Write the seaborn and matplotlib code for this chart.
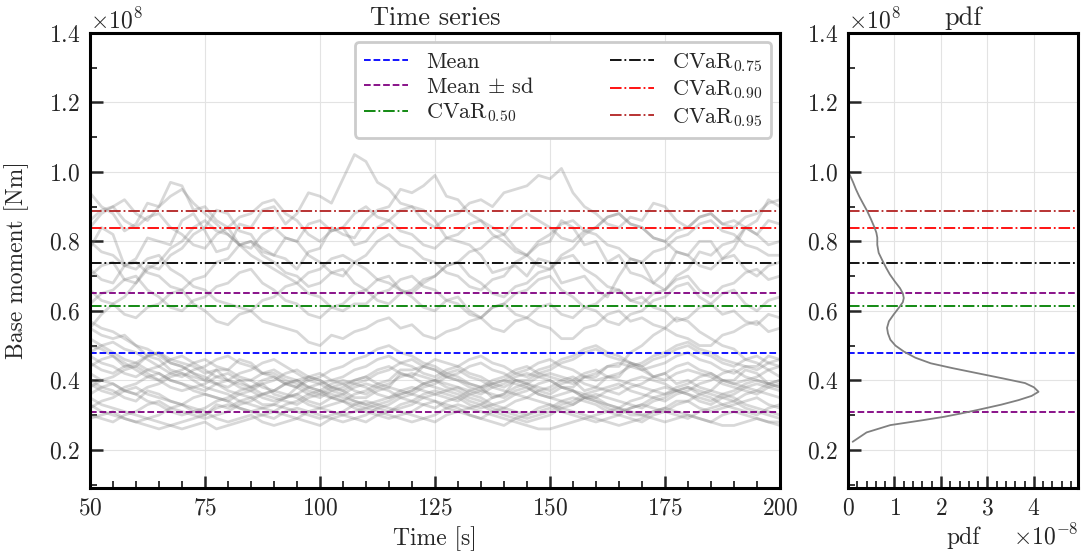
import numpy as np
import pandas as pd
import seaborn as sns
import matplotlib.pyplot as plt
from matplotlib.ticker import MultipleLocator, FixedLocator

#%%
# time grid [s], one sample every 2.5 s
time = [50 + 2.5 * k for k in range(61)]

# trajectories of base moment [x1e8 Nm], upper group
upper_runs = [
    [0.78, 0.84, 0.82, 0.73, 0.75, 0.81, 0.80, 0.79, 0.86, 0.88,
     0.83, 0.77, 0.78, 0.85, 0.84, 0.89, 0.90, 0.85, 0.88, 0.94,
     0.93, 0.91, 0.98, 1.05, 1.03, 0.97, 0.95, 0.91, 0.90, 0.89,
     0.86, 0.81, 0.80, 0.79, 0.76, 0.71, 0.72, 0.73, 0.70, 0.75,
     0.74, 0.68, 0.69, 0.70, 0.66, 0.64, 0.70, 0.75, 0.74, 0.68,
     0.71, 0.77, 0.76, 0.80, 0.80, 0.75, 0.78, 0.84, 0.82, 0.86,
     0.85],
    [0.94, 0.90, 0.88, 0.83, 0.85, 0.91, 0.90, 0.97, 0.96, 0.89,
     0.90, 0.86, 0.84, 0.79, 0.80, 0.78, 0.76, 0.75, 0.72, 0.77,
     0.78, 0.84, 0.82, 0.81, 0.86, 0.89, 0.90, 0.95, 0.94, 0.96,
     0.99, 0.93, 0.92, 0.88, 0.86, 0.84, 0.82, 0.78, 0.76, 0.79,
     0.80, 0.86, 0.84, 0.79, 0.80, 0.74, 0.76, 0.71, 0.70, 0.68,
     0.66, 0.70, 0.72, 0.77, 0.76, 0.79, 0.80, 0.84, 0.86, 0.92,
     0.90],
    [0.70, 0.73, 0.74, 0.69, 0.68, 0.73, 0.72, 0.76, 0.78, 0.82,
     0.84, 0.89, 0.88, 0.83, 0.82, 0.77, 0.76, 0.81, 0.80, 0.85,
     0.86, 0.83, 0.84, 0.79, 0.80, 0.84, 0.86, 0.89, 0.90, 0.86,
     0.84, 0.87, 0.88, 0.91, 0.92, 0.90, 0.94, 0.95, 0.96, 0.99,
     0.98, 1.01, 0.94, 0.90, 0.88, 0.85, 0.84, 0.87, 0.86, 0.91,
     0.90, 0.86, 0.84, 0.87, 0.88, 0.85, 0.86, 0.84, 0.82, 0.79,
     0.80],
    [0.72, 0.69, 0.68, 0.73, 0.74, 0.71, 0.70, 0.67, 0.66, 0.69,
     0.70, 0.74, 0.75, 0.79, 0.80, 0.76, 0.74, 0.71, 0.70, 0.67,
     0.68, 0.71, 0.72, 0.68, 0.66, 0.63, 0.62, 0.65, 0.66, 0.69,
     0.70, 0.73, 0.74, 0.70, 0.68, 0.65, 0.64, 0.67, 0.68, 0.71,
     0.72, 0.75, 0.76, 0.72, 0.70, 0.67, 0.66, 0.63, 0.62, 0.65,
     0.66, 0.69, 0.70, 0.66, 0.64, 0.67, 0.68, 0.71, 0.72, 0.69,
     0.70],
    [0.62, 0.65, 0.66, 0.69, 0.70, 0.66, 0.64, 0.61, 0.60, 0.63,
     0.64, 0.67, 0.68, 0.71, 0.72, 0.68, 0.66, 0.63, 0.62, 0.59,
     0.58, 0.61, 0.62, 0.65, 0.66, 0.69, 0.70, 0.66, 0.64, 0.61,
     0.60, 0.63, 0.64, 0.60, 0.58, 0.61, 0.62, 0.65, 0.66, 0.69,
     0.70, 0.66, 0.64, 0.61, 0.60, 0.57, 0.56, 0.59, 0.60, 0.63,
     0.64, 0.67, 0.68, 0.64, 0.62, 0.65, 0.66, 0.62, 0.60, 0.63,
     0.64],
    [0.80, 0.77, 0.76, 0.73, 0.72, 0.75, 0.76, 0.72, 0.70, 0.67,
     0.66, 0.63, 0.62, 0.61, 0.60, 0.57, 0.56, 0.55, 0.54, 0.51,
     0.50, 0.53, 0.52, 0.54, 0.55, 0.57, 0.58, 0.55, 0.56, 0.53,
     0.52, 0.54, 0.55, 0.57, 0.58, 0.61, 0.62, 0.59, 0.58, 0.56,
     0.55, 0.52, 0.52, 0.55, 0.56, 0.59, 0.60, 0.57, 0.58, 0.56,
     0.55, 0.53, 0.52, 0.50, 0.50, 0.53, 0.54, 0.56, 0.57, 0.54,
     0.55],
    [0.55, 0.59, 0.62, 0.64, 0.68, 0.72, 0.74, 0.78, 0.80, 0.84,
     0.86, 0.83, 0.82, 0.79, 0.78, 0.82, 0.84, 0.81, 0.80, 0.76,
     0.74, 0.71, 0.70, 0.74, 0.76, 0.80, 0.82, 0.79, 0.78, 0.75,
     0.74, 0.71, 0.70, 0.67, 0.66, 0.69, 0.70, 0.74, 0.76, 0.80,
     0.82, 0.85, 0.86, 0.83, 0.82, 0.79, 0.78, 0.75, 0.74, 0.77,
     0.78, 0.81, 0.82, 0.85, 0.86, 0.83, 0.82, 0.79, 0.78, 0.76,
     0.76],
    [0.86, 0.89, 0.90, 0.86, 0.84, 0.87, 0.88, 0.84, 0.82, 0.79,
     0.78, 0.82, 0.84, 0.87, 0.88, 0.91, 0.92, 0.88, 0.86, 0.82,
     0.80, 0.83, 0.84, 0.88, 0.90, 0.87, 0.86, 0.83, 0.82, 0.79,
     0.78, 0.81, 0.82, 0.85, 0.86, 0.82, 0.80, 0.77, 0.76, 0.73,
     0.72, 0.76, 0.78, 0.82, 0.84, 0.87, 0.88, 0.85, 0.84, 0.81,
     0.80, 0.77, 0.76, 0.73, 0.72, 0.75, 0.76, 0.72, 0.70, 0.73,
     0.74],
    [0.66, 0.63, 0.62, 0.59, 0.58, 0.61, 0.62, 0.65, 0.66, 0.62,
     0.60, 0.57, 0.56, 0.59, 0.60, 0.63, 0.64, 0.67, 0.68, 0.65,
     0.64, 0.61, 0.60, 0.62, 0.62, 0.65, 0.66, 0.69, 0.70, 0.67,
     0.66, 0.63, 0.62, 0.59, 0.58, 0.55, 0.54, 0.57, 0.58, 0.61,
     0.62, 0.59, 0.58, 0.61, 0.62, 0.65, 0.66, 0.63, 0.64, 0.61,
     0.60, 0.57, 0.58, 0.61, 0.62, 0.59, 0.60, 0.57, 0.56, 0.59,
     0.58],
    [0.84, 0.88, 0.90, 0.92, 0.88, 0.86, 0.90, 0.93, 0.95, 0.91,
     0.88, 0.85, 0.82, 0.79, 0.76, 0.74, 0.72, 0.70, 0.68, 0.71,
     0.72, 0.75, 0.76, 0.74, 0.72, 0.69, 0.68, 0.66, 0.65, 0.68,
     0.70, 0.73, 0.74, 0.77, 0.78, 0.81, 0.82, 0.86, 0.88, 0.86,
     0.84, 0.81, 0.80, 0.83, 0.84, 0.87, 0.88, 0.85, 0.84, 0.81,
     0.80, 0.83, 0.84, 0.87, 0.88, 0.85, 0.84, 0.87, 0.88, 0.91,
     0.92],
]

# lower group
lower_runs = [
    [0.55, 0.53, 0.52, 0.53, 0.50, 0.47, 0.48, 0.46, 0.45, 0.44,
     0.42, 0.43, 0.40, 0.39, 0.38, 0.39, 0.36, 0.35, 0.38, 0.41,
     0.40, 0.38, 0.37, 0.35, 0.35, 0.37, 0.38, 0.42, 0.41, 0.44,
     0.43, 0.41, 0.40, 0.39, 0.38, 0.35, 0.36, 0.40, 0.39, 0.41,
     0.42, 0.41, 0.40, 0.37, 0.38, 0.41, 0.41, 0.45, 0.44, 0.41,
     0.42, 0.39, 0.40, 0.38, 0.37, 0.40, 0.40, 0.43, 0.42, 0.39,
     0.40],
    [0.50, 0.49, 0.47, 0.44, 0.44, 0.47, 0.46, 0.43, 0.42, 0.41,
     0.40, 0.43, 0.43, 0.46, 0.45, 0.42, 0.42, 0.40, 0.39, 0.37,
     0.36, 0.35, 0.34, 0.36, 0.37, 0.39, 0.40, 0.43, 0.43, 0.44,
     0.46, 0.45, 0.44, 0.42, 0.41, 0.39, 0.38, 0.40, 0.40, 0.42,
     0.43, 0.45, 0.46, 0.48, 0.49, 0.47, 0.46, 0.45, 0.43, 0.44,
     0.45, 0.47, 0.48, 0.46, 0.45, 0.43, 0.42, 0.44, 0.44, 0.47,
     0.46],
    [0.40, 0.38, 0.37, 0.35, 0.34, 0.37, 0.36, 0.34, 0.33, 0.31,
     0.30, 0.33, 0.32, 0.34, 0.35, 0.33, 0.33, 0.32, 0.31, 0.30,
     0.29, 0.30, 0.31, 0.33, 0.34, 0.33, 0.32, 0.31, 0.30, 0.29,
     0.28, 0.30, 0.31, 0.32, 0.33, 0.31, 0.30, 0.29, 0.28, 0.29,
     0.30, 0.32, 0.33, 0.35, 0.35, 0.33, 0.32, 0.30, 0.30, 0.31,
     0.32, 0.34, 0.34, 0.32, 0.31, 0.32, 0.33, 0.34, 0.35, 0.33,
     0.32],
    [0.35, 0.33, 0.32, 0.31, 0.30, 0.29, 0.28, 0.27, 0.26, 0.27,
     0.28, 0.26, 0.27, 0.28, 0.29, 0.30, 0.31, 0.30, 0.29, 0.28,
     0.27, 0.29, 0.30, 0.31, 0.32, 0.31, 0.30, 0.29, 0.28, 0.29,
     0.30, 0.32, 0.33, 0.32, 0.31, 0.30, 0.29, 0.28, 0.27, 0.26,
     0.26, 0.27, 0.28, 0.29, 0.30, 0.31, 0.32, 0.31, 0.30, 0.29,
     0.28, 0.29, 0.30, 0.29, 0.28, 0.27, 0.27, 0.28, 0.29, 0.28,
     0.28],
    [0.45, 0.43, 0.42, 0.44, 0.45, 0.47, 0.48, 0.45, 0.44, 0.42,
     0.41, 0.39, 0.38, 0.40, 0.40, 0.42, 0.43, 0.41, 0.40, 0.38,
     0.37, 0.36, 0.35, 0.34, 0.33, 0.34, 0.35, 0.37, 0.38, 0.37,
     0.36, 0.35, 0.34, 0.36, 0.37, 0.39, 0.40, 0.39, 0.38, 0.36,
     0.35, 0.34, 0.33, 0.35, 0.36, 0.35, 0.34, 0.33, 0.32, 0.34,
     0.35, 0.37, 0.38, 0.37, 0.36, 0.35, 0.34, 0.36, 0.37, 0.36,
     0.35],
    [0.38, 0.40, 0.41, 0.43, 0.44, 0.42, 0.40, 0.38, 0.37, 0.38,
     0.39, 0.41, 0.42, 0.40, 0.38, 0.36, 0.35, 0.34, 0.33, 0.35,
     0.36, 0.38, 0.39, 0.40, 0.41, 0.39, 0.38, 0.37, 0.36, 0.38,
     0.39, 0.41, 0.42, 0.44, 0.45, 0.43, 0.42, 0.40, 0.39, 0.38,
     0.37, 0.39, 0.40, 0.42, 0.43, 0.41, 0.40, 0.39, 0.38, 0.37,
     0.36, 0.38, 0.39, 0.41, 0.42, 0.40, 0.39, 0.38, 0.37, 0.39,
     0.40],
    [0.32, 0.34, 0.35, 0.37, 0.38, 0.36, 0.35, 0.34, 0.33, 0.35,
     0.36, 0.35, 0.34, 0.32, 0.31, 0.32, 0.33, 0.35, 0.36, 0.38,
     0.39, 0.37, 0.36, 0.34, 0.33, 0.32, 0.31, 0.33, 0.34, 0.36,
     0.37, 0.36, 0.35, 0.33, 0.32, 0.33, 0.34, 0.36, 0.37, 0.39,
     0.40, 0.38, 0.37, 0.35, 0.34, 0.32, 0.31, 0.32, 0.33, 0.35,
     0.36, 0.37, 0.38, 0.36, 0.35, 0.33, 0.32, 0.31, 0.30, 0.32,
     0.33],
    [0.48, 0.50, 0.51, 0.49, 0.48, 0.46, 0.44, 0.42, 0.41, 0.43,
     0.44, 0.46, 0.47, 0.45, 0.44, 0.42, 0.41, 0.39, 0.38, 0.40,
     0.41, 0.43, 0.44, 0.46, 0.47, 0.49, 0.50, 0.48, 0.47, 0.45,
     0.44, 0.42, 0.41, 0.39, 0.38, 0.39, 0.40, 0.42, 0.43, 0.45,
     0.46, 0.44, 0.43, 0.41, 0.40, 0.41, 0.42, 0.44, 0.45, 0.47,
     0.48, 0.50, 0.51, 0.49, 0.48, 0.46, 0.45, 0.44, 0.43, 0.45,
     0.46],
    [0.30, 0.29, 0.28, 0.30, 0.31, 0.33, 0.34, 0.32, 0.31, 0.30,
     0.29, 0.30, 0.31, 0.33, 0.34, 0.36, 0.37, 0.36, 0.35, 0.33,
     0.32, 0.31, 0.30, 0.29, 0.28, 0.30, 0.31, 0.32, 0.33, 0.35,
     0.36, 0.37, 0.38, 0.36, 0.35, 0.33, 0.32, 0.31, 0.30, 0.31,
     0.32, 0.34, 0.35, 0.34, 0.33, 0.31, 0.30, 0.29, 0.28, 0.30,
     0.31, 0.33, 0.34, 0.36, 0.37, 0.36, 0.35, 0.33, 0.32, 0.31,
     0.30],
    [0.42, 0.40, 0.39, 0.37, 0.36, 0.38, 0.39, 0.41, 0.42, 0.40,
     0.38, 0.37, 0.36, 0.34, 0.33, 0.32, 0.31, 0.33, 0.34, 0.36,
     0.37, 0.39, 0.40, 0.39, 0.38, 0.36, 0.35, 0.36, 0.37, 0.39,
     0.40, 0.38, 0.37, 0.35, 0.34, 0.32, 0.31, 0.30, 0.29, 0.30,
     0.31, 0.33, 0.34, 0.36, 0.37, 0.38, 0.39, 0.37, 0.36, 0.35,
     0.34, 0.36, 0.37, 0.39, 0.40, 0.42, 0.43, 0.41, 0.40, 0.39,
     0.38],
    [0.36, 0.38, 0.39, 0.37, 0.36, 0.34, 0.33, 0.31, 0.30, 0.31,
     0.32, 0.34, 0.35, 0.37, 0.38, 0.40, 0.41, 0.39, 0.38, 0.36,
     0.35, 0.37, 0.38, 0.40, 0.41, 0.43, 0.44, 0.42, 0.41, 0.39,
     0.38, 0.37, 0.36, 0.34, 0.33, 0.35, 0.36, 0.38, 0.39, 0.37,
     0.36, 0.38, 0.38, 0.41, 0.41, 0.44, 0.44, 0.48, 0.50, 0.53,
     0.55, 0.58, 0.57, 0.54, 0.52, 0.50, 0.49, 0.46, 0.45, 0.43,
     0.41],
    [0.33, 0.31, 0.30, 0.29, 0.28, 0.29, 0.30, 0.32, 0.33, 0.32,
     0.31, 0.29, 0.28, 0.29, 0.30, 0.28, 0.27, 0.28, 0.29, 0.31,
     0.32, 0.33, 0.34, 0.32, 0.31, 0.30, 0.29, 0.30, 0.31, 0.33,
     0.34, 0.33, 0.32, 0.30, 0.29, 0.28, 0.27, 0.29, 0.30, 0.32,
     0.33, 0.32, 0.31, 0.30, 0.29, 0.28, 0.27, 0.28, 0.29, 0.31,
     0.32, 0.31, 0.30, 0.29, 0.28, 0.30, 0.31, 0.30, 0.29, 0.28,
     0.27],
    [0.44, 0.46, 0.47, 0.45, 0.43, 0.41, 0.40, 0.42, 0.43, 0.45,
     0.46, 0.44, 0.43, 0.41, 0.40, 0.38, 0.37, 0.39, 0.40, 0.41,
     0.42, 0.40, 0.39, 0.37, 0.36, 0.38, 0.39, 0.41, 0.42, 0.41,
     0.40, 0.42, 0.43, 0.41, 0.40, 0.38, 0.37, 0.36, 0.35, 0.37,
     0.38, 0.40, 0.41, 0.39, 0.38, 0.37, 0.36, 0.38, 0.39, 0.41,
     0.42, 0.44, 0.45, 0.43, 0.42, 0.40, 0.39, 0.40, 0.41, 0.43,
     0.44],
    [0.39, 0.37, 0.36, 0.38, 0.39, 0.41, 0.42, 0.40, 0.39, 0.37,
     0.36, 0.35, 0.34, 0.36, 0.37, 0.39, 0.40, 0.42, 0.43, 0.41,
     0.40, 0.38, 0.37, 0.39, 0.40, 0.42, 0.43, 0.45, 0.46, 0.44,
     0.43, 0.41, 0.40, 0.38, 0.37, 0.36, 0.35, 0.37, 0.38, 0.36,
     0.35, 0.36, 0.37, 0.35, 0.34, 0.33, 0.32, 0.34, 0.35, 0.37,
     0.38, 0.37, 0.36, 0.34, 0.33, 0.35, 0.36, 0.38, 0.39, 0.38,
     0.37],
    [0.52, 0.50, 0.48, 0.46, 0.45, 0.43, 0.42, 0.40, 0.39, 0.38,
     0.37, 0.39, 0.40, 0.38, 0.37, 0.35, 0.34, 0.35, 0.36, 0.34,
     0.33, 0.35, 0.36, 0.38, 0.39, 0.38, 0.37, 0.35, 0.34, 0.33,
     0.32, 0.34, 0.35, 0.37, 0.38, 0.40, 0.41, 0.43, 0.44, 0.42,
     0.41, 0.40, 0.39, 0.41, 0.42, 0.44, 0.45, 0.44, 0.43, 0.41,
     0.40, 0.42, 0.43, 0.42, 0.41, 0.39, 0.38, 0.37, 0.36, 0.38,
     0.39],
    [0.29, 0.30, 0.31, 0.29, 0.28, 0.27, 0.26, 0.27, 0.28, 0.29,
     0.30, 0.32, 0.33, 0.32, 0.31, 0.30, 0.29, 0.31, 0.32, 0.31,
     0.30, 0.29, 0.28, 0.29, 0.30, 0.32, 0.33, 0.35, 0.36, 0.35,
     0.34, 0.32, 0.31, 0.30, 0.29, 0.31, 0.32, 0.34, 0.35, 0.34,
     0.33, 0.31, 0.30, 0.29, 0.28, 0.29, 0.30, 0.32, 0.33, 0.32,
     0.31, 0.30, 0.29, 0.31, 0.32, 0.33, 0.34, 0.32, 0.31, 0.30,
     0.29],
    [0.57, 0.55, 0.54, 0.52, 0.50, 0.49, 0.47, 0.45, 0.44, 0.42,
     0.40, 0.39, 0.37, 0.36, 0.35, 0.36, 0.37, 0.39, 0.40, 0.38,
     0.37, 0.35, 0.34, 0.33, 0.32, 0.33, 0.34, 0.36, 0.37, 0.39,
     0.40, 0.39, 0.38, 0.37, 0.36, 0.38, 0.39, 0.41, 0.42, 0.41,
     0.40, 0.38, 0.37, 0.36, 0.35, 0.37, 0.38, 0.40, 0.41, 0.40,
     0.39, 0.37, 0.36, 0.35, 0.34, 0.36, 0.37, 0.39, 0.40, 0.39,
     0.38],
    [0.47, 0.45, 0.44, 0.42, 0.41, 0.43, 0.44, 0.46, 0.47, 0.45,
     0.43, 0.41, 0.40, 0.42, 0.43, 0.45, 0.46, 0.44, 0.42, 0.40,
     0.39, 0.40, 0.41, 0.43, 0.44, 0.46, 0.47, 0.45, 0.44, 0.42,
     0.41, 0.43, 0.44, 0.46, 0.47, 0.45, 0.44, 0.42, 0.41, 0.43,
     0.44, 0.46, 0.47, 0.49, 0.50, 0.48, 0.47, 0.45, 0.44, 0.46,
     0.47, 0.49, 0.50, 0.48, 0.47, 0.45, 0.44, 0.46, 0.47, 0.45,
     0.44],
]

# statistics [x1e8 Nm]
mean_val = 0.48
sd_val = 0.17
cvar_levels = ['0.50', '0.75', '0.90', '0.95']
cvar_vals = [0.613, 0.738, 0.839, 0.888]
cvar_colors = ['green', 'black', 'red', 'firebrick']

# pdf curve: moment [x1e8] vs density [x1e-8]
pdf_y = [0.223, 0.250, 0.271, 0.285, 0.295, 0.305, 0.315, 0.330, 0.343, 0.355,
         0.367, 0.380, 0.392, 0.405, 0.420, 0.435, 0.449, 0.465, 0.483, 0.500,
         0.517, 0.535, 0.551, 0.570, 0.589, 0.610, 0.625, 0.637, 0.650, 0.665,
         0.686, 0.705, 0.724, 0.745, 0.767, 0.790, 0.811, 0.825, 0.840, 0.865,
         0.888, 0.910, 0.930, 0.950, 0.970, 0.985, 1.000]
pdf_x = [0.10, 0.40, 0.91, 1.60, 2.07, 2.45, 2.80, 3.30, 3.67, 3.95,
         4.10, 4.00, 3.81, 3.35, 2.80, 2.25, 1.78, 1.45, 1.20, 1.02,
         0.91, 0.86, 0.84, 0.88, 0.98, 1.10, 1.18, 1.20, 1.18, 1.12,
         1.00, 0.90, 0.82, 0.74, 0.66, 0.63, 0.63, 0.61, 0.57, 0.49,
         0.41, 0.32, 0.24, 0.17, 0.11, 0.06, 0.01]
pdf_ticks = [0, 1, 2, 3, 4]

#%%
rows = []
for i, run in enumerate(upper_runs + lower_runs):
    assert len(run) == len(time), (i, len(run))
    for t, m in zip(time, run):
        rows.append([i, t, m * 1e8])
df = pd.DataFrame(rows, columns=['run', 'time', 'moment'])
pdf_df = pd.DataFrame({'moment': np.array(pdf_y) * 1e8, 'pdf': np.array(pdf_x) * 1e-8})

#%%
sns.set_theme(style='ticks')
plt.rcParams['font.family'] = 'serif'
plt.rcParams['font.serif'] = ['cmr10', 'DejaVu Serif']
plt.rcParams['mathtext.fontset'] = 'cm'
plt.rcParams['axes.formatter.use_mathtext'] = True
plt.rcParams['axes.unicode_minus'] = False

fs = 17
fig = plt.figure(figsize=(10.84, 5.6), dpi=100)
ax1 = fig.add_axes([0.083, 0.1286, 0.6365, 0.8125])
ax2 = fig.add_axes([0.7823, 0.1286, 0.2122, 0.8125])

sns.lineplot(data=df, x='time', y='moment', units='run', estimator=None,
             color='grey', alpha=0.3, lw=2, ax=ax1)

def stat_lines(ax, with_labels):
    lab = (lambda s: s) if with_labels else (lambda s: None)
    ax.axhline(mean_val * 1e8, color='blue', ls='--', lw=1.3, label=lab('Mean'))
    ax.axhline((mean_val + sd_val) * 1e8, color='purple', ls='--', lw=1.3, label=lab(r'Mean $\pm$ sd'))
    ax.axhline((mean_val - sd_val) * 1e8, color='purple', ls='--', lw=1.3)
    for lev, v, c in zip(cvar_levels, cvar_vals, cvar_colors):
        ax.axhline(v * 1e8, color=c, ls='-.', lw=1.3, label=lab(r'CVaR$_{%s}$' % lev))

stat_lines(ax1, True)
stat_lines(ax2, False)

sns.lineplot(data=pdf_df, x='pdf', y='moment', orient='y', color='grey', lw=1.3, ax=ax2)

for ax in (ax1, ax2):
    ax.set_ylim(0.09e8, 1.4e8)
    ax.yaxis.set_major_locator(MultipleLocator(0.2e8))
    ax.yaxis.set_minor_locator(MultipleLocator(0.1e8))
    ax.grid(True, which='major', color='#e3e3e3', lw=0.8)
    ax.tick_params(which='major', direction='in', length=9, width=1.8, labelsize=fs, pad=7)
    ax.tick_params(which='minor', direction='in', length=5, width=1.3)
    for s in ax.spines.values():
        s.set_linewidth(2.2)
        s.set_color('black')
    ax.yaxis.get_offset_text().set_fontsize(fs)
    ax.xaxis.get_offset_text().set_fontsize(fs)

ax1.set_xlim(50, 200)
ax1.xaxis.set_major_locator(MultipleLocator(25))
ax1.xaxis.set_minor_locator(MultipleLocator(5))
ax1.set_xlabel('Time [s]', fontsize=fs)
ax1.set_ylabel('Base moment [Nm]', fontsize=fs)
ax1.yaxis.set_label_coords(-0.088, 0.5)
ax1.xaxis.set_label_coords(0.5, -0.085)
ax1.set_title('Time series', fontsize=19)

ax2.set_xlim(0, 4.95e-8)
ax2.xaxis.set_major_locator(FixedLocator([v * 1e-8 for v in pdf_ticks]))
ax2.xaxis.set_minor_locator(MultipleLocator(0.2e-8))
ax2.set_xlabel('pdf', fontsize=fs)
ax2.xaxis.set_label_coords(0.5, -0.085)
ax2.set_ylabel('')
ax2.set_title('pdf', fontsize=19)

leg = ax1.legend(loc='upper right', ncol=2, fontsize=16, frameon=True, fancybox=True,
                 handlelength=2.0, handletextpad=0.8, columnspacing=3.4,
                 labelspacing=0.22, borderaxespad=0.4)
leg.get_frame().set_edgecolor('#cccccc')
leg.get_frame().set_linewidth(2)
leg.get_frame().set_alpha(1)

fig.savefig('out.png', dpi=100)
